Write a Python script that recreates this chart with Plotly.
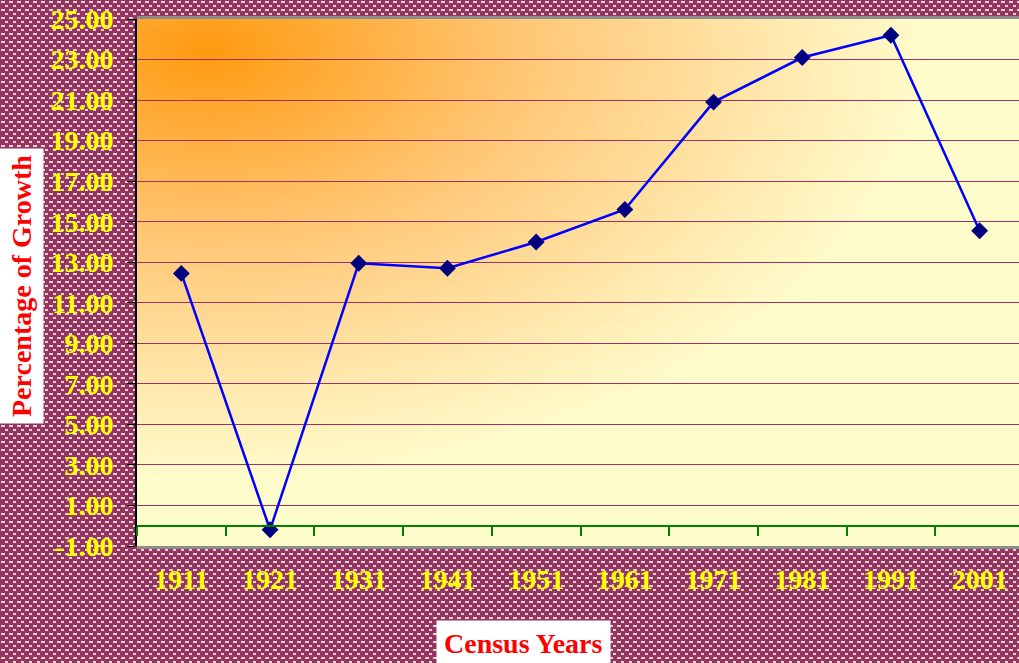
import base64
import plotly.graph_objects as go

# ---- data ----
years = ["1911", "1921", "1931", "1941", "1951", "1961", "1971", "1981", "1991", "2001"]
growth = [12.45, -0.2, 12.95, 12.7, 14.0, 15.6, 20.9, 23.1, 24.2, 14.55]
y_ticks = [-1, 1, 3, 5, 7, 9, 11, 13, 15, 17, 19, 21, 23, 25]
y_tick_labels = ["%.2f" % v for v in y_ticks]

W, H = 1019, 663
L, T, B = 137, 19, 117
PW, PH = W - L, H - T - B  # plot area in px

def svg_uri(svg):
    return "data:image/svg+xml;base64," + base64.b64encode(svg.encode()).decode()

pattern_svg = f"""<svg xmlns='http://www.w3.org/2000/svg' width='{W}' height='{H}' viewBox='0 0 {W} {H}' preserveAspectRatio='none'>
<defs><pattern id='p' width='8' height='8' patternUnits='userSpaceOnUse'>
<rect width='8' height='8' fill='#993366'/>
<rect x='1' y='1' width='4' height='2' fill='#d4dcc6'/>
<rect x='5' y='5' width='4' height='2' fill='#d4dcc6'/>
</pattern></defs>
<rect width='{W}' height='{H}' fill='url(#p)'/></svg>"""

grad_svg = f"""<svg xmlns='http://www.w3.org/2000/svg' width='{PW}' height='{PH}' viewBox='0 0 {PW} {PH}' preserveAspectRatio='none'>
<defs><radialGradient id='g' cx='0.08' cy='0.06' r='0.82' fx='0.08' fy='0.06'>
<stop offset='0' stop-color='#ff9a10'/>
<stop offset='0.45' stop-color='#ffc878'/>
<stop offset='0.8' stop-color='#ffeab0'/>
<stop offset='1' stop-color='#fffccc'/>
</radialGradient></defs>
<rect width='{PW}' height='{PH}' fill='url(#g)'/></svg>"""

tick_font = dict(family="Liberation Serif", size=28, color="#ffff00", weight="bold")
title_font = dict(family="Liberation Serif", size=28, color="#ff0000", weight="bold")

fig = go.Figure()
fig.add_trace(go.Scatter(
    x=years, y=growth, mode="lines+markers",
    line=dict(color="#0000ff", width=2.5),
    marker=dict(symbol="diamond", size=13, color="#000080"),
    hoverinfo="x+y",
))
# invisible trace to carry the zero-crossing category axis
fig.add_trace(go.Scatter(
    x=years, y=growth, xaxis="x2", mode="markers",
    marker=dict(opacity=0), hoverinfo="skip", showlegend=False,
))

xr = [-0.5, 9.5 - 5 / 88.67]
fig.update_layout(
    width=W, height=H,
    margin=dict(l=L, r=0, t=T, b=B),
    paper_bgcolor="#a45a80",
    plot_bgcolor="rgba(0,0,0,0)",
    showlegend=False,
    xaxis=dict(
        type="category", range=xr, showgrid=False, zeroline=False,
        showline=False, ticks="outside", ticklen=8, tickcolor="rgba(0,0,0,0)",
        tickfont=tick_font,
    ),
    xaxis2=dict(
        type="category", overlaying="x", anchor="free",
        position=(0 - y_ticks[0]) / (y_ticks[-1] - y_ticks[0]),
        range=xr, showgrid=False, zeroline=False,
        showline=True, linecolor="#008000", linewidth=2,
        ticks="outside", tickson="boundaries", ticklen=9,
        tickcolor="#008000", tickwidth=1.5, showticklabels=False,
    ),
    yaxis=dict(
        range=[y_ticks[0], y_ticks[-1]], tickvals=y_ticks, ticktext=y_tick_labels,
        showgrid=True, gridcolor="#993366", gridwidth=1, zeroline=False,
        showline=True, linecolor="#000000", linewidth=2,
        ticks="outside", ticklen=8, tickcolor="#000000",
        tickfont=tick_font, ticklabelstandoff=8,
    ),
    images=[
        dict(source=svg_uri(pattern_svg), xref="paper", yref="paper",
             x=-L / PW, y=1 + T / PH, sizex=W / PW, sizey=H / PH,
             xanchor="left", yanchor="top", sizing="stretch", layer="below"),
        dict(source=svg_uri(grad_svg), xref="paper", yref="paper",
             x=0, y=1, sizex=1, sizey=1,
             xanchor="left", yanchor="top", sizing="stretch", layer="below"),
    ],
    shapes=[
        dict(type="rect", xref="paper", yref="paper", ysizemode="pixel", yanchor=1,
             x0=0, x1=1, y0=0, y1=3, fillcolor="#8c8c8c", line=dict(width=0), layer="above"),
        dict(type="rect", xref="paper", yref="paper", ysizemode="pixel", yanchor=0,
             x0=0, x1=1, y0=-3, y1=0, fillcolor="#8c8c8c", line=dict(width=0), layer="above"),
    ],
    annotations=[
        dict(text="Percentage of Growth", xref="paper", yref="paper",
             x=(21.5 - L) / PW, y=(H - B - 286.5) / PH, textangle=-90,
             showarrow=False, font=title_font, bgcolor="#ffffff", borderpad=6,
             xanchor="center", yanchor="middle"),
        dict(text="Census Years", xref="paper", yref="paper",
             x=(523.5 - L) / PW, y=(H - B - 643) / PH,
             showarrow=False, font=title_font, bgcolor="#ffffff", borderpad=7,
             xanchor="center", yanchor="middle"),
    ],
)

fig.write_html(
    "out.html",
    config={"displayModeBar": False},
    post_script="document.body.style.margin='0';document.body.style.overflow='hidden';",
)
